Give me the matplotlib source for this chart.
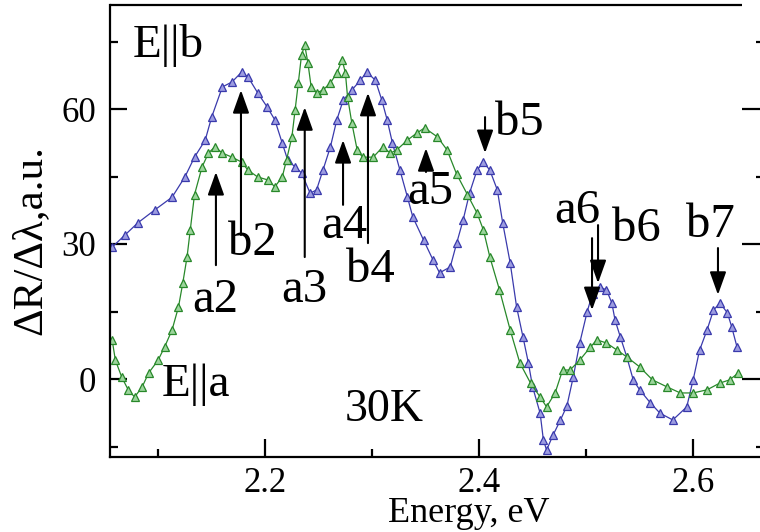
import matplotlib
matplotlib.use("Agg")
import matplotlib.pyplot as plt
from matplotlib.ticker import FixedLocator

# ---------------- data ----------------
energy_b = [2.057, 2.069, 2.081, 2.097, 2.113, 2.125, 2.134, 2.144, 2.150, 2.160,
            2.169, 2.178, 2.184, 2.193, 2.202, 2.209, 2.216, 2.221, 2.228, 2.234,
            2.242, 2.248, 2.254, 2.261, 2.267, 2.273, 2.281, 2.289, 2.295, 2.303,
            2.309, 2.314, 2.319, 2.326, 2.333, 2.338, 2.348, 2.357, 2.363, 2.373,
            2.379, 2.385, 2.391, 2.398, 2.404, 2.410, 2.417, 2.422, 2.429, 2.435,
            2.441, 2.446, 2.450, 2.457, 2.460, 2.463, 2.469, 2.476, 2.482, 2.488,
            2.494, 2.501, 2.506, 2.513, 2.519, 2.524, 2.527, 2.532, 2.538, 2.544,
            2.550, 2.560, 2.569, 2.581, 2.594, 2.600, 2.606, 2.613, 2.619, 2.625,
            2.632, 2.636, 2.641]
signal_b = [29.3, 32.0, 34.7, 37.6, 40.4, 44.9, 49.3, 53.1, 58.2, 64.9,
            66.0, 68.2, 67.1, 63.6, 60.4, 57.6, 52.4, 48.7, 47.1, 45.8,
            41.3, 42.0, 46.4, 51.6, 57.6, 62.0, 64.2, 66.4, 68.2, 66.4,
            62.0, 57.6, 52.4, 46.4, 40.4, 36.0, 30.9, 26.4, 23.6, 24.9,
            30.2, 35.3, 41.3, 46.4, 48.2, 46.4, 42.0, 34.7, 25.8, 16.0,
            9.3, 3.6, -1.8, -7.6, -13.5, -15.8, -12.5, -9.1, -6.0, 0.5,
            8.0, 15.0, 19.0, 20.4, 19.8, 16.9, 13.1, 9.3, 4.9, -0.2,
            -2.4, -5.3, -7.6, -9.1, -6.2, -0.2, 6.4, 10.9, 15.3, 16.9,
            14.7, 11.6, 7.1]

energy_a = [2.057, 2.060, 2.066, 2.072, 2.078, 2.085, 2.091, 2.100, 2.106, 2.113,
            2.119, 2.123, 2.127, 2.130, 2.134, 2.141, 2.147, 2.153, 2.160, 2.169,
            2.178, 2.184, 2.193, 2.203, 2.209, 2.216, 2.220, 2.225, 2.228, 2.231,
            2.234, 2.237, 2.240, 2.243, 2.248, 2.254, 2.261, 2.267, 2.272, 2.275,
            2.277, 2.281, 2.286, 2.291, 2.301, 2.310, 2.317, 2.323, 2.333, 2.342,
            2.349, 2.361, 2.370, 2.379, 2.389, 2.398, 2.404, 2.410, 2.419, 2.429,
            2.438, 2.448, 2.457, 2.463, 2.471, 2.478, 2.485, 2.494, 2.504, 2.510,
            2.519, 2.529, 2.538, 2.550, 2.562, 2.576, 2.588, 2.600, 2.613, 2.625,
            2.634, 2.642]
signal_a = [8.7, 4.2, 0.4, -2.4, -4.0, -1.8, 1.3, 4.2, 7.1, 10.9,
            16.0, 21.3, 27.1, 33.1, 41.0, 47.1, 50.2, 51.6, 50.2, 49.3,
            48.2, 46.4, 44.9, 44.2, 42.7, 44.9, 48.7, 53.8, 59.8, 65.8,
            72.0, 74.2, 70.2, 64.9, 63.6, 64.2, 65.8, 68.0, 70.9, 68.0,
            62.7, 56.9, 50.9, 49.3, 49.3, 51.6, 50.2, 50.9, 53.1, 54.7,
            55.8, 53.8, 50.9, 45.5, 41.0, 36.9, 33.1, 27.1, 19.8, 10.9,
            3.6, -0.9, -4.0, -6.2, -3.1, 2.0, 2.0, 4.2, 7.1, 8.7,
            8.0, 6.4, 4.9, 2.7, -0.2, -1.8, -3.1, -3.1, -2.4, -0.9,
            -0.2, 1.3]

x_major = [2.2, 2.4, 2.6]
x_minor = [2.1, 2.3, 2.5]
y_major = [0, 30, 60]
y_minor = [-15, 15, 45, 75]

peak_labels = ["a2", "b2", "a3", "a4", "b4", "a5", "b5", "a6", "b6", "b7"]

# ---------------- figure ----------------
plt.rcParams['font.family'] = ['Liberation Serif', 'DejaVu Serif']

fig = plt.figure(figsize=(7.6, 5.32), dpi=100)
ax = fig.add_axes([110/760, 1-457/532, 650/760, 452/532])

ax.plot(energy_b, signal_b, '-', color='#3a3aac', lw=0.9, marker='^',
        ms=5.5, mfc='#9c9ce0', mec='#3a3aac', mew=0.9)
ax.plot(energy_a, signal_a, '-', color='#28882a', lw=0.9, marker='^',
        ms=5.5, mfc='#9cd49c', mec='#28882a', mew=0.9)

ax.set_xlim(2.055, 2.055 + 650/1070)
ax.set_ylim((379-457)/4.5, (379-5)/4.5)

for s in ['top', 'right']:
    ax.spines[s].set_visible(False)
for s in ['left', 'bottom']:
    ax.spines[s].set_linewidth(1.6)
# top border stops before the right edge
ax.plot([0, 632/650], [1, 1], transform=ax.transAxes, color='black',
        lw=1.6, clip_on=False, solid_capstyle='butt')

ax.xaxis.set_major_locator(FixedLocator(x_major))
ax.xaxis.set_minor_locator(FixedLocator(x_minor))
ax.yaxis.set_major_locator(FixedLocator(y_major))
ax.yaxis.set_minor_locator(FixedLocator(y_minor))
ax.set_xticklabels([f"{v:.1f}" for v in x_major])
ax.set_yticklabels([str(v) for v in y_major])
ax.tick_params(axis='both', which='both', direction='in', width=1.6, labelsize=25)
ax.tick_params(axis='x', which='major', length=13, pad=7)
ax.tick_params(axis='x', which='minor', length=6)
ax.tick_params(axis='y', which='major', length=12, pad=10)
ax.tick_params(axis='y', which='minor', length=6)

sec = ax.secondary_yaxis('right')
sec.spines['right'].set_visible(False)
sec.yaxis.set_major_locator(FixedLocator(y_major))
sec.yaxis.set_minor_locator(FixedLocator(y_minor))
sec.tick_params(axis='y', which='both', direction='in', width=1.6, labelright=False)
sec.tick_params(axis='y', which='major', length=13)
sec.tick_params(axis='y', which='minor', length=3)

fig.text(469/760, 1-514/532, "Energy, eV", ha='center', va='center', fontsize=26)
fig.text(30/760, 1-240/532, "ΔR/Δλ,a.u.", ha='center', va='center',
         rotation=90, fontsize=31)

# peak arrows: (x, tail y, head y, label x, label y, ha)
arrows = [
    (2.154, 25.3, 46.0, 2.153, 17.6, 'center'),
    (2.1774, 32.0, 64.2, 2.188, 30.2, 'center'),
    (2.237, 27.1, 60.4, 2.237, 19.8, 'center'),
    (2.2728, 38.7, 53.1, 2.2737, 34.0, 'center'),
    (2.2961, 30.2, 63.6, 2.298, 24.2, 'center'),
    (2.3503, 46.0, 51.3, 2.354, 41.6, 'center'),
    (2.4055, 58.2, 50.2, 2.4148, 56.9, 'left'),
    (2.5055, 31.3, 15.3, 2.4914, 37.3, 'center'),
    (2.5111, 34.2, 21.3, 2.5466, 33.3, 'center'),
    (2.6232, 29.1, 18.7, 2.6157, 34.2, 'center'),
]
for lab, (xa, yt, yh, xl, yl, ha) in zip(peak_labels, arrows):
    ax.annotate("", xy=(xa, yh), xytext=(xa, yt),
                arrowprops=dict(arrowstyle='-|>,head_length=0.7,head_width=0.25',
                                color='black', lw=1.5, mutation_scale=20,
                                shrinkA=0, shrinkB=0))
    ax.text(xl, yl, lab, ha=ha, va='center', fontsize=35)

ax.text(2.0765, 74.2, "E||b", ha='left', va='center', fontsize=34)
ax.text(2.1036, -1.3, "E||a", ha='left', va='center', fontsize=34)
ax.text(2.2746, -6.9, "30K", ha='left', va='center', fontsize=33)

fig.savefig("out.png", dpi=100)
